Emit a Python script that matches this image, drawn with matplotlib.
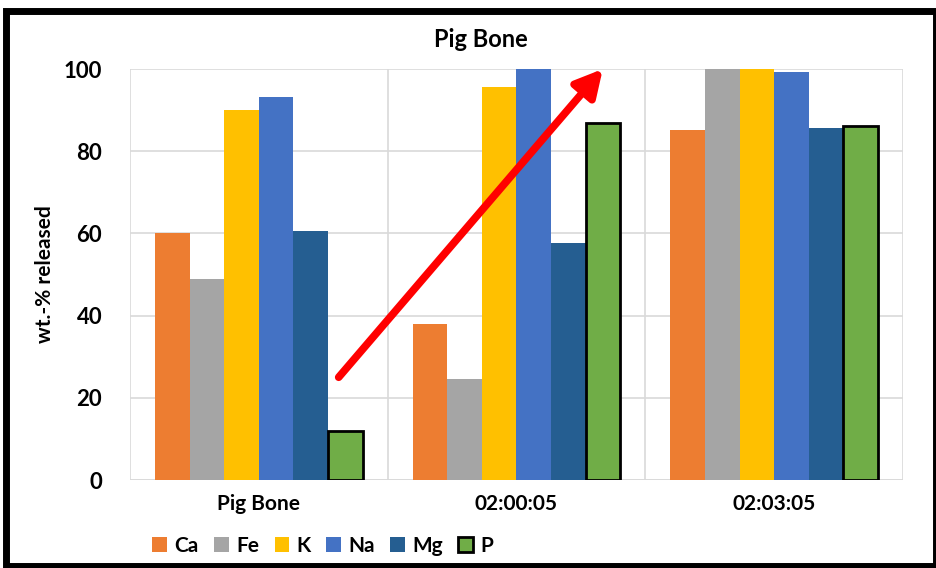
import matplotlib.pyplot as plt
import numpy as np
from matplotlib.patches import Rectangle

plt.rcParams['font.family'] = ['Lato', 'DejaVu Sans']
plt.rcParams['font.weight'] = 'bold'

samples = ["Pig Bone", "02:00:05", "02:03:05"]
elements = ["Ca", "Fe", "K", "Na", "Mg", "P"]
released = {
    "Ca": [60.1, 38.0, 85.2],
    "Fe": [48.9, 24.6, 100.0],
    "K": [90.0, 95.6, 100.0],
    "Na": [93.2, 100.0, 99.3],
    "Mg": [60.6, 57.7, 85.6],
    "P": [11.9, 86.9, 86.1],
}
colors = ["#ED7D31", "#A5A5A5", "#FFC000", "#4472C4", "#255E91", "#70AD47"]
yticks = [0, 20, 40, 60, 80, 100]

# trend arrow (data coords)
arrow_tail = (0.31, 25.0)
arrow_head = (1.335, 100.0)

fig = plt.figure(figsize=(9.37, 5.68), dpi=100)
ax = fig.add_axes([0.1387, 0.1549, 0.825, 0.7236])

x = np.arange(len(samples))
w = 0.1344
for i, (el, c) in enumerate(zip(elements, colors)):
    edge = "black" if el == "P" else "none"
    lw = 2.0 if el == "P" else 0
    ax.bar(x + (i - 2.5) * w, released[el], w, color=c, edgecolor=edge,
           linewidth=lw, label=el, zorder=3)

ax.set_xlim(-0.5, 2.5)
ax.set_ylim(0, 100)
ax.set_yticks(yticks)
ax.set_xticks(x)
ax.set_xticklabels(samples)
ax.tick_params(length=0, labelsize=15, pad=10)
ax.tick_params(axis="y", labelsize=16, pad=20)
for lab in ax.get_xticklabels() + ax.get_yticklabels():
    lab.set_fontweight("bold")

# horizontal value grid plus category separators
ax.grid(axis="y", color="#D9D9D9", linewidth=1.2, zorder=0)
for b in [-0.5, 0.5, 1.5, 2.5]:
    ax.axvline(b, color="#D9D9D9", linewidth=1.2, zorder=0)
for s in ax.spines.values():
    s.set_visible(False)
ax.axhline(0, color="#D9D9D9", linewidth=1.2, zorder=1)

ax.set_title("Pig Bone", x=0.454, fontsize=17, fontweight="bold", pad=16)
ax.set_ylabel("wt.-% released", fontsize=15, fontweight="bold", labelpad=6)

ax.annotate("", xy=arrow_head, xytext=arrow_tail,
            arrowprops=dict(arrowstyle="-|>,head_length=1.6,head_width=0.85",
                            color="#FF0000", lw=5.5, shrinkA=0, shrinkB=0),
            zorder=5, annotation_clip=False)

leg = ax.legend(loc="upper left", bbox_to_anchor=(0.01, -0.1), ncol=6,
                frameon=False, fontsize=15, handlelength=0.7, handleheight=0.75,
                handletextpad=0.35, columnspacing=0.75, borderpad=0.2)
for t in leg.get_texts():
    t.set_fontweight("bold")

# black frame around the figure
fig.patches.append(Rectangle((0.0064, 0.0035), 0.9925, 0.978, transform=fig.transFigure,
                             fill=False, edgecolor="black", linewidth=5, zorder=10))

fig.savefig("out.png", dpi=100)
